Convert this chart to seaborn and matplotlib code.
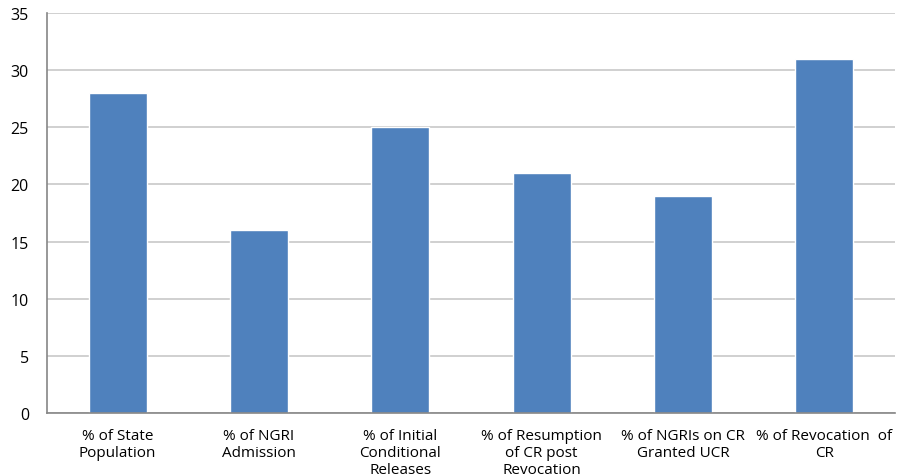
import pandas as pd
import seaborn as sns
import matplotlib.pyplot as plt
from matplotlib.ticker import FixedLocator

categories = ["% of State\nPopulation", "% of NGRI\nAdmission", "% of Initial\nConditional\nReleases",
              "% of Resumption\nof CR post\nRevocation", "% of NGRIs on CR\nGranted UCR", "% of Revocation  of\nCR"]
values = [28, 16, 25, 21, 19, 31]
y_ticks = [0, 5, 10, 15, 20, 25, 30, 35]

df = pd.DataFrame({"category": categories, "value": values})

sns.set_style("white")
plt.rcParams['font.family'] = ['Open Sans', 'DejaVu Sans']

fig = plt.figure(figsize=(8.98, 4.77), dpi=100)
ax = fig.add_axes([47 / 898, 1 - 414 / 477, (895 - 47) / 898, 400 / 477])
sns.barplot(data=df, x="category", y="value", color="#4F81BD", saturation=1, width=0.41, ax=ax)

ax.set_xlim(-0.5, len(categories) - 0.5)
ax.set_ylim(0, 35)
ax.set_yticks(y_ticks)
ax.yaxis.grid(True, color="#C8C8C8", linewidth=1.2)
ax.set_axisbelow(True)
ax.set_xlabel("")
ax.set_ylabel("")

for side in ["top", "right"]:
    ax.spines[side].set_visible(False)
for side in ["left", "bottom"]:
    ax.spines[side].set_color("#868686")
    ax.spines[side].set_linewidth(1.2)

ax.tick_params(axis="y", length=5, color="#868686", width=1.2, labelsize=11.5, pad=8, labelcolor="black")
ax.tick_params(axis="x", which="major", length=0, labelsize=11, pad=11, labelcolor="black")
ax.xaxis.set_minor_locator(FixedLocator([i - 0.5 for i in range(len(categories) + 1)]))
ax.tick_params(axis="x", which="minor", length=5, color="#868686", width=1.2)
for lbl in ax.get_xticklabels():
    lbl.set_linespacing(1.15)

fig.savefig("out.png", dpi=100)
